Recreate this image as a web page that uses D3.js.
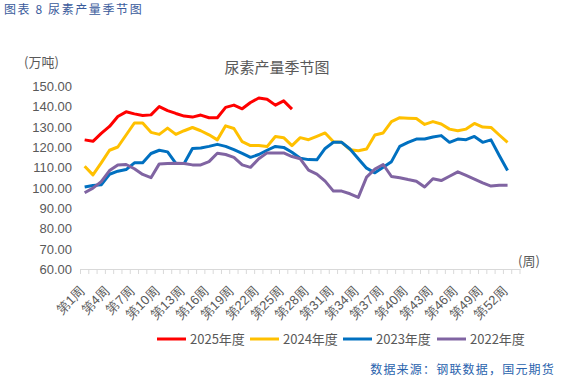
<!DOCTYPE html>
<html lang="zh">
<head>
  <meta charset="UTF-8">
  <script src="https://d3js.org/d3.v7.min.js"></script>
  <style>
    body { margin: 0; background: #fff; }
    svg { font-family: 'Noto Sans CJK SC', 'Noto Sans', sans-serif; }
    .tick text { fill: #595959; }
  </style>
</head>
<body>
  <svg id="chart" width="564" height="389"></svg>
  <script>
    // weekly output, 10k tonnes
    const weeks = d3.range(1, 54);
    const tickWeeks = d3.range(1, 53, 3);
    const yTicks = d3.range(60, 151, 10);

    const y2025 = [123.5, 122.8, 126.7, 130.1, 135, 137.3, 136.3, 135.5, 135.8, 139.9,
      137.9, 136.5, 135.2, 134.7, 135.7, 134.4, 134.4, 139.5, 140.6, 138.8,
      141.9, 144.1, 143.5, 140.6, 142.7, 138.6];
    const y2024 = [110.5, 106.3, 112.2, 118.4, 120, 125.9, 131.8, 131.8, 127.2, 126.2,
      129.3, 126.2, 128, 129.6, 128, 126, 123.5, 130.4, 129.1, 122.6,
      120.7, 120.7, 120.2, 125.2, 124.6, 120.7, 124.6, 123.6, 125.2, 126.9,
      122.6, 122.3, 118.7, 118.2, 119, 125.9, 126.9, 132.5, 134.4, 134.2,
      134, 131.1, 132.5, 131.3, 128.8, 128, 128.8, 131.6, 129.8, 129.6,
      125.9, 122.3];
    const y2023 = [100.3, 101.1, 101.4, 106.6, 108.1, 108.9, 112.2, 112.2, 116.8, 118.4,
      117.6, 111.9, 111.9, 119.3, 119.5, 120.3, 121.3, 120.3, 118.7, 116.9,
      114.9, 116.3, 118.4, 120.3, 119.8, 117.4, 114.5, 113.8, 113.7, 119.3,
      122.3, 122.3, 119, 114.2, 109.6, 107.3, 110, 112.8, 120.3, 122.3,
      123.9, 123.9, 124.9, 125.6, 122.3, 123.9, 123.6, 125.2, 122.3, 123.5,
      115.8, 108.4];
    const y2022 = [97.5, 99.8, 103, 108.4, 111.2, 111.4, 109.3, 106.5, 104.9, 111.7,
      111.9, 112, 111.9, 111.2, 111.2, 112.8, 116.9, 116.3, 114.9, 111.2,
      110, 114.2, 117.1, 117.1, 117.1, 115.3, 114.2, 108.6, 106.7, 103.2,
      98.3, 98.3, 97, 95.2, 105.2, 109.1, 111.4, 105.5, 104.9, 104,
      103.2, 100.3, 104.4, 103.5, 105.6, 107.8, 106, 104.2, 102.4, 100.8,
      101.2, 101.2];

    const seriesNames = ['2025年度', '2024年度', '2023年度', '2022年度'];
    const seriesData = [y2025, y2024, y2023, y2022];
    const colors = ['#ff0000', '#ffc000', '#0070c0', '#8064a2'];

    const svg = d3.select('#chart');

    const x = d3.scaleBand().domain(weeks).range([80.5, 520]);
    const y = d3.scaleLinear().domain([60, 150]).range([269, 86]);

    // header
    svg.append('text')
      .attr('x', 4).attr('y', 14)
      .style('font-size', '12px')
      .style('letter-spacing', '1.6px')
      .style('fill', '#3a5b9c')
      .attr('xml:space', 'preserve')
      .text('图表 8 尿素产量季节图');

    svg.append('text')
      .attr('x', 277).attr('y', 73)
      .attr('text-anchor', 'middle')
      .style('font-size', '15px')
      .style('fill', '#595959')
      .text('尿素产量季节图');

    svg.append('text')
      .attr('x', 24).attr('y', 67)
      .style('font-size', '13px')
      .style('fill', '#595959')
      .text('(万吨)');

    svg.append('text')
      .attr('x', 518).attr('y', 266)
      .style('font-size', '13px')
      .style('fill', '#595959')
      .text('(周)');

    // y axis
    const yAxis = svg.append('g')
      .attr('transform', 'translate(72,0)')
      .call(d3.axisLeft(y).tickValues(yTicks).tickSize(0).tickPadding(0).tickFormat(d3.format('.2f')));
    yAxis.select('.domain').remove();
    yAxis.selectAll('text').style('font-size', '13px').attr('dy', '0.35em');

    // x axis
    const xAxis = svg.append('g')
      .attr('transform', 'translate(0,269)')
      .call(d3.axisBottom(x).tickValues(tickWeeks).tickSize(0).tickFormat(d => '第' + d + '周'));
    xAxis.select('.domain').attr('stroke', '#d9d9d9');
    xAxis.selectAll('text')
      .style('font-size', '13px')
      .attr('text-anchor', 'end')
      .attr('transform', 'translate(-8,14) rotate(-45)')
      .attr('dx', 0).attr('dy', '0.7em');

    // category boundary ticks
    svg.append('g').selectAll('line')
      .data(weeks.concat([54]))
      .join('line')
      .attr('x1', d => d <= 53 ? x(d) : x(53) + x.bandwidth())
      .attr('x2', d => d <= 53 ? x(d) : x(53) + x.bandwidth())
      .attr('y1', 269).attr('y2', 274)
      .attr('stroke', '#d9d9d9');

    // lines
    const line = d3.line()
      .x((d, i) => x(i + 1) + x.bandwidth() / 2)
      .y(d => y(d));

    svg.append('g').selectAll('path')
      .data(seriesData)
      .join('path')
      .attr('d', d => line(d))
      .attr('fill', 'none')
      .attr('stroke', (d, i) => colors[i])
      .attr('stroke-width', 3)
      .attr('stroke-linejoin', 'round');

    // legend
    const legendX = [157, 250, 343, 437];
    const legend = svg.append('g');
    seriesNames.forEach((name, i) => {
      legend.append('line')
        .attr('x1', legendX[i]).attr('x2', legendX[i] + 29)
        .attr('y1', 339).attr('y2', 339)
        .attr('stroke', colors[i])
        .attr('stroke-width', 3);
      legend.append('text')
        .attr('x', legendX[i] + 33).attr('y', 344)
        .style('font-size', '13px')
        .style('fill', '#595959')
        .text(name);
    });

    // source
    svg.append('text')
      .attr('x', 555).attr('y', 374)
      .attr('text-anchor', 'end')
      .style('font-size', '12px')
      .style('letter-spacing', '1.2px')
      .style('fill', '#2a63ad')
      .text('数据来源：钢联数据，国元期货');
  </script>
</body>
</html>
